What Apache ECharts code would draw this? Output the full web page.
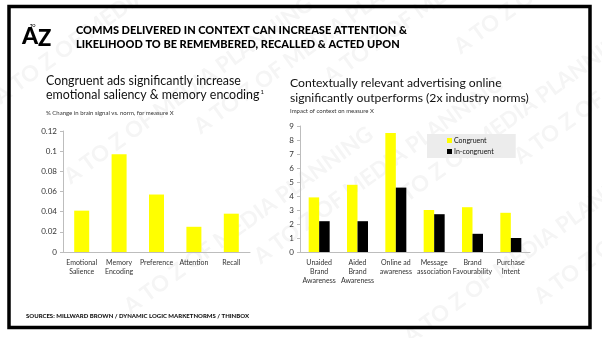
<!DOCTYPE html>
<html><head><meta charset="utf-8">
<script src="https://cdn.jsdelivr.net/npm/echarts@6/dist/echarts.min.js"></script>
<style>html,body{margin:0;padding:0;background:#fff}#c{width:602px;height:338px}</style>
</head><body><div id="c"></div>
<script>
const leftCategories = ['Emotional\nSalience', 'Memory\nEncoding', 'Preference', 'Attention', 'Recall'];
const leftValues = [0.041, 0.097, 0.057, 0.025, 0.038];
const leftTicks = { min: 0, max: 0.12, interval: 0.02 };

const rightCategories = ['Unaided\nBrand\nAwareness', 'Aided\nBrand\nAwareness', 'Online ad\nawareness', 'Message\nassociation', 'Brand\nFavourability', 'Purchase\nIntent'];
const congruent = [3.9, 4.8, 8.5, 3.0, 3.2, 2.8];
const inCongruent = [2.2, 2.2, 4.6, 2.7, 1.3, 1.0];
const rightTicks = { min: 0, max: 9, interval: 1 };

const titleLines = ['COMMS DELIVERED IN CONTEXT CAN INCREASE ATTENTION &', 'LIKELIHOOD TO BE REMEMBERED, RECALLED & ACTED UPON'];
const leftSubtitle = ['Congruent ads significantly increase', 'emotional saliency & memory encoding'];
const leftNote = '% Change in brain signal vs. norm, for measure X';
const rightSubtitle = ['Contextually relevant advertising online', 'significantly outperforms (2x industry norms)'];
const rightNote = 'Impact of context on measure X';
const footer = 'SOURCES: MILLWARD BROWN / DYNAMIC LOGIC MARKETNORMS / THINBOX';

const FONT = 'Lato, "DejaVu Sans", sans-serif';
const axisLabel = { color: '#333', fontSize: 7, fontFamily: FONT };
const axisLine = { show: true, lineStyle: { color: '#bdbdbd', width: 1 } };

const chart = echarts.init(document.getElementById('c'), null, { renderer: 'canvas' });

const wm = [];
const wmPos = [[60,170],[190,120],[320,70],[450,40],[120,300],[250,250],[380,200],[510,150],[400,330],[530,290],[-10,90]];
wmPos.forEach(p => wm.push({ type: 'text', x: p[0], y: p[1], rotation: Math.PI * 0.2, silent: true, z: -10,
  style: { text: 'A TO Z OF MEDIA PLANNING', fill: '#f5f5f5', font: 'bold 22px ' + FONT } }));

chart.setOption({
  animation: false,
  backgroundColor: '#fff',
  grid: [
    { left: 63, top: 131, width: 187, height: 121 },
    { left: 300, top: 126, width: 230, height: 126 }
  ],
  xAxis: [
    { type: 'category', gridIndex: 0, data: leftCategories, axisLine, axisTick: { show: false },
      axisLabel: Object.assign({ margin: 6, interval: 0, lineHeight: 9 }, axisLabel) },
    { type: 'category', gridIndex: 1, data: rightCategories, axisLine, axisTick: { show: false },
      axisLabel: Object.assign({ margin: 6, interval: 0, lineHeight: 9 }, axisLabel) }
  ],
  yAxis: [
    { type: 'value', gridIndex: 0, min: leftTicks.min, max: leftTicks.max, interval: leftTicks.interval,
      axisLine, axisTick: { show: true, length: 3, lineStyle: { color: '#bdbdbd' } }, splitLine: { show: false },
      axisLabel: Object.assign({ margin: 6 }, axisLabel, { fontSize: 8 }) },
    { type: 'value', gridIndex: 1, min: rightTicks.min, max: rightTicks.max, interval: rightTicks.interval,
      axisLine, axisTick: { show: true, length: 3, lineStyle: { color: '#bdbdbd' } }, splitLine: { show: false },
      axisLabel: Object.assign({ margin: 6 }, axisLabel, { fontSize: 8 }) }
  ],
  legend: {
    orient: 'vertical', left: 427, top: 134, backgroundColor: '#ececec', padding: [3, 22, 3, 20],
    itemWidth: 5, itemHeight: 5, itemGap: 4, icon: 'rect',
    textStyle: { fontSize: 7, color: '#111', fontFamily: FONT, padding: [0, 0, 0, -3] },
    data: ['Congruent', 'In-congruent']
  },
  series: [
    { type: 'bar', name: 'Left', xAxisIndex: 0, yAxisIndex: 0, data: leftValues, barWidth: 15,
      itemStyle: { color: '#ffff00' } },
    { type: 'bar', name: 'Congruent', xAxisIndex: 1, yAxisIndex: 1, data: congruent, barGap: '0%', barWidth: 10.5,
      itemStyle: { color: '#ffff00' } },
    { type: 'bar', name: 'In-congruent', xAxisIndex: 1, yAxisIndex: 1, data: inCongruent, barGap: '0%', barWidth: 10.5,
      itemStyle: { color: '#000000' } }
  ],
  graphic: wm.concat([
    { type: 'rect', shape: { x: 9, y: 6.5, width: 581, height: 321 }, silent: true, z: 5,
      style: { fill: 'none', stroke: '#000', lineWidth: 3.5 } },
    { type: 'text', x: 22, y: 25, style: { text: 'A', fill: '#000', font: '900 23px ' + FONT } },
    { type: 'text', x: 30, y: 24, style: { text: 'TO', fill: '#000', font: 'bold 4px ' + FONT } },
    { type: 'text', x: 38, y: 28, style: { text: 'Z', fill: '#000', font: '900 22px ' + FONT } },
    { type: 'text', x: 76, y: 23, style: { text: titleLines.join('\n'), fill: '#000', font: '900 11px ' + FONT, lineHeight: 14 } },
    { type: 'text', x: 46, y: 75, style: { text: leftSubtitle[0], fill: '#111', font: '12.4px ' + FONT } },
    { type: 'text', x: 46, y: 89, style: {
        text: leftSubtitle[1] + '{sup|1}', fill: '#111', font: '12.4px ' + FONT,
        rich: { sup: { fontSize: 6, fontFamily: FONT, verticalAlign: 'top', fill: '#111', padding: [0, 0, 6, 1] } } } },
    { type: 'text', x: 46, y: 110, style: { text: leftNote, fill: '#333', font: '6px ' + FONT } },
    { type: 'text', x: 290, y: 76, style: { text: rightSubtitle.join('\n'), fill: '#111', font: '12.2px ' + FONT, lineHeight: 14.5 } },
    { type: 'text', x: 290, y: 108, style: { text: rightNote, fill: '#333', font: '6px ' + FONT } },
    { type: 'text', x: 26, y: 313, style: { text: footer, fill: '#111', font: '900 6px ' + FONT } }
  ])
});
</script></body></html>
